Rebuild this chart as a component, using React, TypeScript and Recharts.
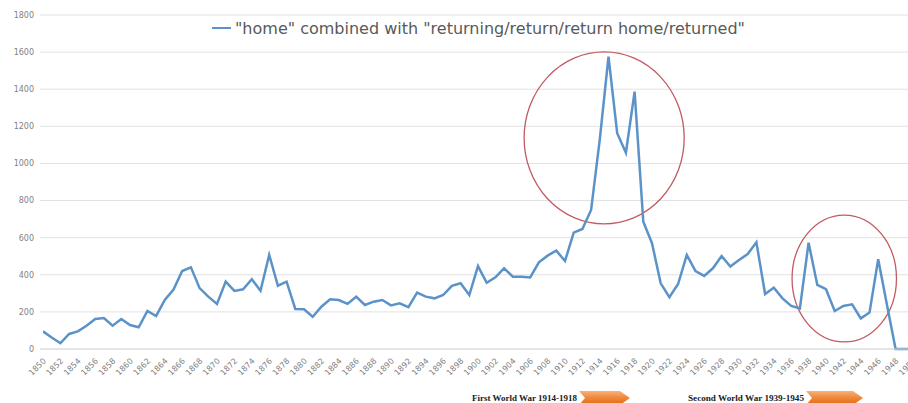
import React from "react";
import {
  LineChart,
  Line,
  XAxis,
  YAxis,
  CartesianGrid,
  Legend,
  ReferenceArea,
} from "recharts";

const years = [
  1850, 1851, 1852, 1853, 1854, 1855, 1856, 1857, 1858, 1859,
  1860, 1861, 1862, 1863, 1864, 1865, 1866, 1867, 1868, 1869,
  1870, 1871, 1872, 1873, 1874, 1875, 1876, 1877, 1878, 1879,
  1880, 1881, 1882, 1883, 1884, 1885, 1886, 1887, 1888, 1889,
  1890, 1891, 1892, 1893, 1894, 1895, 1896, 1897, 1898, 1899,
  1900, 1901, 1902, 1903, 1904, 1905, 1906, 1907, 1908, 1909,
  1910, 1911, 1912, 1913, 1914, 1915, 1916, 1917, 1918, 1919,
  1920, 1921, 1922, 1923, 1924, 1925, 1926, 1927, 1928, 1929,
  1930, 1931, 1932, 1933, 1934, 1935, 1936, 1937, 1938, 1939,
  1940, 1941, 1942, 1943, 1944, 1945, 1946, 1947, 1948, 1949,
  1950,
];

const homeReturning = [
  95, 62, 31, 81, 95, 125, 162, 167, 126, 162,
  129, 117, 205, 178, 264, 320, 420, 440, 328, 282,
  243, 363, 313, 322, 376, 314, 507, 341, 363, 216,
  214, 174, 228, 268, 264, 243, 282, 237, 255, 264,
  235, 246, 225, 304, 282, 273, 291, 340, 354, 291,
  447, 357, 386, 435, 390, 390, 386, 467, 503, 530,
  474, 627, 647, 749, 1130, 1576, 1163, 1058, 1387, 686,
  570, 354, 279, 350, 507, 420, 394, 435, 501, 444,
  480, 512, 575, 296, 330, 273, 232, 219, 573, 345,
  322, 205, 232, 241, 165, 196, 484, 240, 0, 0,
  0,
];

const xTicks = [
  1850, 1852, 1854, 1856, 1858, 1860, 1862, 1864, 1866, 1868,
  1870, 1872, 1874, 1876, 1878, 1880, 1882, 1884, 1886, 1888,
  1890, 1892, 1894, 1896, 1898, 1900, 1902, 1904, 1906, 1908,
  1910, 1912, 1914, 1916, 1918, 1920, 1922, 1924, 1926, 1928,
  1930, 1932, 1934, 1936, 1938, 1940, 1942, 1944, 1946, 1948,
  1950,
];

const yTicks = [0, 200, 400, 600, 800, 1000, 1200, 1400, 1600, 1800];

const seriesName =
  '"home" combined with "returning/return/return home/returned"';

// annotation ellipses: [x1, x2, y1, y2] in data units
const highlightFirst = [1905.3, 1923.7, 674, 1601];
const highlightSecond = [1936.1, 1948.1, 38, 722];

const warLabels = ["First World War 1914-1918", "Second World War 1939-1945"];

const data = years.map((year, i) => ({ year, value: homeReturning[i] }));

const LINE_COLOR = "#5b93c9";
const TICK_COLOR = "#7f7f7f";

const XTick = (props: any) => {
  const { x, y, payload } = props;
  const ax = x + 3.5;
  const ay = y + 12.5;
  return (
    <text
      x={ax}
      y={ay}
      transform={`rotate(-45, ${ax}, ${ay})`}
      textAnchor="end"
      fontSize={8}
      fontFamily="DejaVu Sans"
      fill={TICK_COLOR}
    >
      {payload.value}
    </text>
  );
};

const EllipseShape = (props: any) => {
  const { x, y, width, height } = props;
  return (
    <ellipse
      cx={x + width / 2}
      cy={y + height / 2}
      rx={Math.abs(width) / 2}
      ry={Math.abs(height) / 2}
      fill="none"
      stroke="#c25b62"
      strokeWidth={1.3}
    />
  );
};

const LegendContent = () => (
  <div
    style={{
      display: "flex",
      alignItems: "center",
      height: 22,
      fontFamily: "DejaVu Sans",
      fontSize: 16,
      color: "#595959",
      whiteSpace: "nowrap",
    }}
  >
    <span
      style={{
        display: "inline-block",
        width: 19,
        height: 2,
        background: LINE_COLOR,
        marginRight: 4,
      }}
    />
    <span>{seriesName}</span>
  </div>
);

const Chevron = ({ x, w, id }: { x: number; w: number; id: string }) => {
  const top = 391;
  const bot = 405;
  const mid = (top + bot) / 2;
  const d = `M${x},${top} L${x + w - 10},${top} L${x + w},${mid} L${x + w - 10},${bot} L${x},${bot} L${x + 6},${mid} Z`;
  return <path d={d} fill={`url(#${id})`} />;
};

export default function App() {
  return (
    <div
      style={{
        position: "absolute",
        left: 0,
        top: 0,
        width: 908,
        height: 403,
        overflow: "hidden",
        background: "#ffffff",
      }}
    >
      <LineChart
        width={923}
        height={403}
        data={data}
        margin={{ top: 15, right: 10, bottom: 14, left: 0 }}
      >
        <CartesianGrid
          horizontal={true}
          vertical={false}
          stroke="#e2e2e2"
          strokeWidth={1}
        />
        <XAxis
          dataKey="year"
          type="number"
          domain={[1850, 1950]}
          ticks={xTicks}
          interval={0}
          padding={{ left: 3, right: 0 }}
          height={40}
          tickSize={0}
          tickMargin={0}
          tickLine={false}
          axisLine={{ stroke: "#d9d9d9" }}
          tick={<XTick />}
          allowDataOverflow={true}
        />
        <YAxis
          type="number"
          domain={[0, 1800]}
          ticks={yTicks}
          width={40}
          tickSize={0}
          tickMargin={6}
          tickLine={false}
          axisLine={false}
          tick={{ fontSize: 8, fontFamily: "DejaVu Sans", fill: TICK_COLOR }}
        />
        <Legend
          layout="horizontal"
          verticalAlign="middle"
          align="center"
          wrapperStyle={{ top: 17, left: 212, width: 600, height: 22 }}
          content={<LegendContent />}
        />
        <Line
          type="linear"
          dataKey="value"
          name={seriesName}
          stroke={LINE_COLOR}
          strokeWidth={2.5}
          dot={false}
          activeDot={false}
          isAnimationActive={false}
        />
        <ReferenceArea
          x1={highlightFirst[0]}
          x2={highlightFirst[1]}
          y1={highlightFirst[2]}
          y2={highlightFirst[3]}
          ifOverflow="visible"
          shape={<EllipseShape />}
        />
        <ReferenceArea
          x1={highlightSecond[0]}
          x2={highlightSecond[1]}
          y1={highlightSecond[2]}
          y2={highlightSecond[3]}
          ifOverflow="visible"
          shape={<EllipseShape />}
        />
      </LineChart>
      <svg
        width={908}
        height={403}
        style={{ position: "absolute", left: 0, top: 0, pointerEvents: "none" }}
      >
        <defs>
          <linearGradient id="orangeA" x1="0" y1="0" x2="0" y2="1">
            <stop offset="0%" stopColor="#f9b27a" />
            <stop offset="45%" stopColor="#ef8a3c" />
            <stop offset="100%" stopColor="#e06a14" />
          </linearGradient>
          <linearGradient id="orangeB" x1="0" y1="0" x2="0" y2="1">
            <stop offset="0%" stopColor="#f9b27a" />
            <stop offset="45%" stopColor="#ef8a3c" />
            <stop offset="100%" stopColor="#e06a14" />
          </linearGradient>
        </defs>
        <text
          x={472}
          y={401}
          fontFamily="Liberation Serif"
          fontWeight="bold"
          fontSize={9}
          fill="#1a1a1a"
          textLength={105}
          lengthAdjust="spacingAndGlyphs"
        >
          {warLabels[0]}
        </text>
        <Chevron x={579} w={51} id="orangeA" />
        <text
          x={688}
          y={401}
          fontFamily="Liberation Serif"
          fontWeight="bold"
          fontSize={9}
          fill="#1a1a1a"
          textLength={116}
          lengthAdjust="spacingAndGlyphs"
        >
          {warLabels[1]}
        </text>
        <Chevron x={806} w={57} id="orangeB" />
      </svg>
    </div>
  );
}
